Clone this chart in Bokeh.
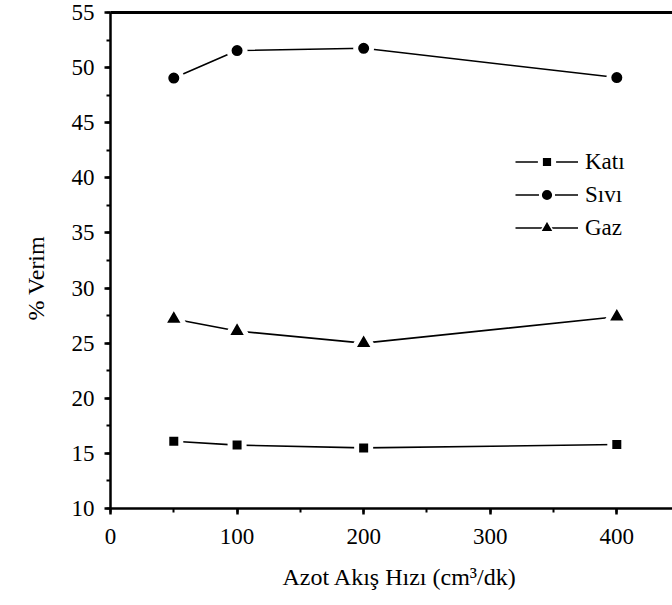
from bokeh.plotting import figure
from bokeh.models import (Range1d, SingleIntervalTicker, LinearAxis, FixedTicker,
                          Legend, LegendItem, Title)
from bokeh.embed import file_html
from bokeh.resources import INLINE

# Data
flow = [50, 100, 200, 400]
kati = [16.1, 15.75, 15.5, 15.8]
sivi = [49.05, 51.55, 51.75, 49.1]
gaz = [27.2, 26.1, 25.0, 27.4]

series_names = ["Katı", "Sıvı", "Gaz"]
x_title = "Azot Akış Hızı (cm³/dk)"
y_title = "% Verim"

FONT = "Liberation Serif"

p = figure(width=672, height=605, output_backend="svg", toolbar_location=None,
           x_range=Range1d(0, 444), y_range=Range1d(10, 55))
p.extra_y_ranges = {"legend_only": Range1d(1000, 1001)}
p.min_border_left = 110
p.min_border_right = 0
p.min_border_top = 12
p.min_border_bottom = 97
p.outline_line_color = None
p.grid.grid_line_color = None
p.background_fill_color = "white"
p.border_fill_color = "white"

p.xaxis.ticker = SingleIntervalTicker(interval=100, num_minor_ticks=2)
p.yaxis.ticker = SingleIntervalTicker(interval=5, num_minor_ticks=2)

for ax in (p.xaxis[0], p.yaxis[0]):
    ax.axis_line_width = 2.5
    ax.axis_line_color = "black"
    ax.major_tick_line_width = 2.5
    ax.minor_tick_line_width = 2
    ax.major_tick_out = 6
    ax.major_tick_in = 0
    ax.minor_tick_out = 4
    ax.minor_tick_in = 0
    ax.major_label_text_font = FONT
    ax.major_label_text_font_size = "23px"
    ax.major_label_text_color = "black"

p.xaxis.major_label_standoff = 14
p.yaxis.major_label_standoff = 10

top = LinearAxis(ticker=FixedTicker(ticks=[]), major_label_text_font_size="0px",
                 axis_line_width=3, axis_line_color="black")
p.add_layout(top, "above")

# Axis titles
p.add_layout(Title(text=y_title, align="left", offset=188, standoff=40,
                   text_font=FONT, text_font_size="24px", text_font_style="normal",
                   text_color="black"), "left")
p.add_layout(Title(text=x_title, align="left", offset=172, standoff=31,
                   text_font=FONT, text_font_size="24px", text_font_style="normal",
                   text_color="black"), "below")

items = []
specs = [(kati, "square", 14, 5), (sivi, "circle", 16, 3), (gaz, "triangle", 22, 1.5)]
for name, (ys, marker, size, leg_stroke) in zip(series_names, specs):
    lr = p.line(flow, ys, line_color="black", line_width=1.6)
    p.scatter(flow, ys, marker=marker, size=size, fill_color="black",
              line_color="white", line_width=5)
    # legend proxy glyph (mapped onto a range that lies outside the frame)
    lg = p.scatter(flow, ys, marker=marker, fill_color="black",
                   line_color="white", line_width=leg_stroke,
                   y_range_name="legend_only")
    items.append(LegendItem(label=name, renderers=[lr, lg]))

legend = Legend(items=items, location=(405, 264))
legend.border_line_color = None
legend.background_fill_alpha = 0
legend.padding = 0
legend.margin = 0
legend.glyph_width = 63
legend.glyph_height = 33
legend.label_height = 20
legend.spacing = 0
legend.label_standoff = 7
legend.label_text_font = FONT
legend.label_text_font_size = "23px"
legend.label_text_color = "black"
p.add_layout(legend, "center")

open("out.html", "w").write(file_html(p, INLINE))
